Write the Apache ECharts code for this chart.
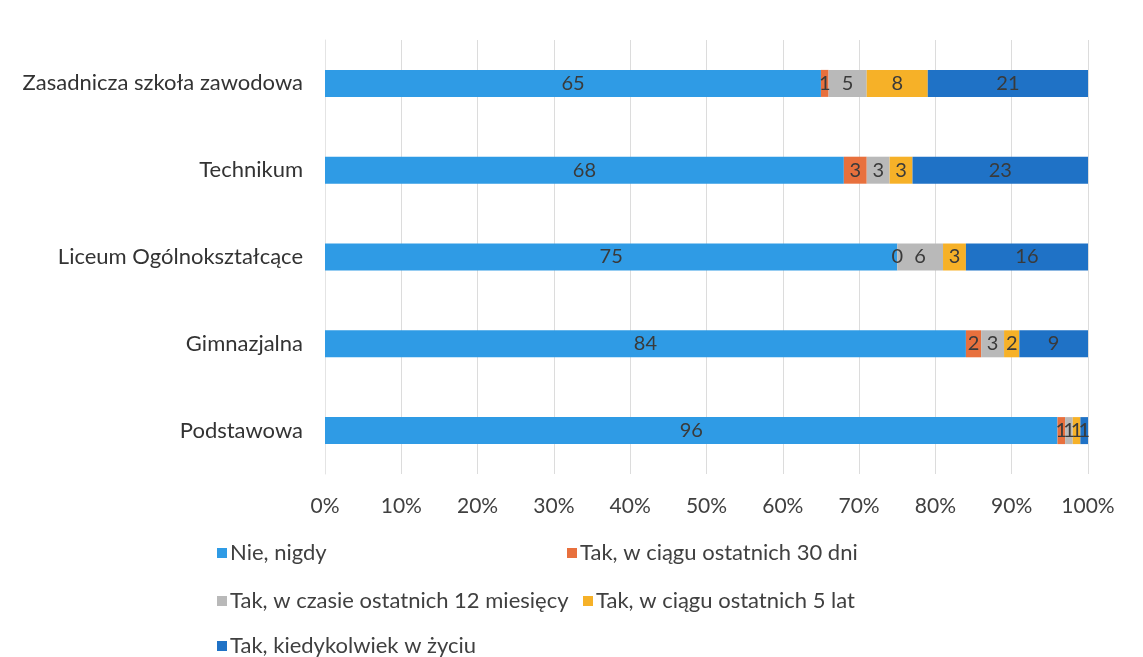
<!DOCTYPE html>
<html>
<head>
<meta charset="utf-8">
<script src="https://cdn.jsdelivr.net/npm/echarts@6/dist/echarts.min.js"></script>
<style>
html, body { margin: 0; padding: 0; background: #fff; }
#chart { width: 1143px; height: 657px; }
</style>
</head>
<body>
<div id="chart"></div>
<script>
// kategorie od dołu do góry
const schools = ['Podstawowa', 'Gimnazjalna', 'Liceum Ogólnokształcące', 'Technikum', 'Zasadnicza szkoła zawodowa']
const seriesNames = [
    'Nie, nigdy',
    'Tak, w ciągu ostatnich 30 dni',
    'Tak, w czasie ostatnich 12 miesięcy',
    'Tak, w ciągu ostatnich 5 lat',
    'Tak, kiedykolwiek w życiu'
]
const nieNigdy = [96, 84, 75, 68, 65]
const dni30 = [1, 2, 0, 3, 1]
const mies12 = [1, 3, 6, 3, 5]
const lat5 = [1, 2, 3, 3, 8]
const kiedykolwiek = [1, 9, 16, 23, 21]
const colors = ['#2F9BE5', '#E8703D', '#B9B9B9', '#F6B128', '#1F72C6']

const allValues = [nieNigdy, dni30, mies12, lat5, kiedykolwiek]
const font = 'Lato, "Open Sans", sans-serif'

let myChart = echarts.init(document.getElementById('chart'))

// udział procentowy w wierszu (wykres 100%)
let totals = schools.map((s, i) => allValues.reduce((acc, arr) => acc + arr[i], 0))

let legendPos = [
    { left: 212, top: 537 },
    { left: 562, top: 537 },
    { left: 212, top: 585 },
    { left: 578, top: 585 },
    { left: 212, top: 630 }
]

let option = {
    animation: false,
    color: colors,
    grid: {
        left: 325,
        right: 55,
        top: 40,
        bottom: 183,
        containLabel: false
    },
    legend: seriesNames.map((name, i) => ({
        data: [name],
        left: legendPos[i].left,
        top: legendPos[i].top,
        icon: 'rect',
        itemWidth: 10,
        itemHeight: 10,
        itemGap: 4,
        textStyle: { color: '#404040', fontSize: 22, fontFamily: font, padding: [0, 0, 0, -2] }
    })),
    xAxis: {
        type: 'value',
        min: 0,
        max: 1,
        interval: 0.1,
        axisLabel: {
            color: '#404040',
            fontSize: 21,
            fontFamily: font,
            margin: 22,
            formatter: (v) => Math.round(v * 100) + '%'
        },
        axisLine: { show: false },
        axisTick: { show: false },
        splitLine: { lineStyle: { color: '#DCDCDC', width: 1 } }
    },
    yAxis: {
        type: 'category',
        data: schools,
        axisLabel: {
            color: '#333333',
            fontSize: 22,
            fontFamily: font,
            margin: 22
        },
        axisLine: { show: true, lineStyle: { color: '#E4E4E4' } },
        axisTick: { show: false }
    },
    series: seriesNames.map((name, k) => ({
        name: name,
        type: 'bar',
        stack: 'total',
        barWidth: 27,
        data: allValues[k].map((v, i) => ({ value: v / totals[i], raw: v })),
        label: {
            show: true,
            position: 'inside',
            color: '#3A3A3A',
            fontSize: 20,
            fontFamily: font,
            formatter: (p) => p.data.raw
        }
    }))
}

option && myChart.setOption(option)
</script>
</body>
</html>
